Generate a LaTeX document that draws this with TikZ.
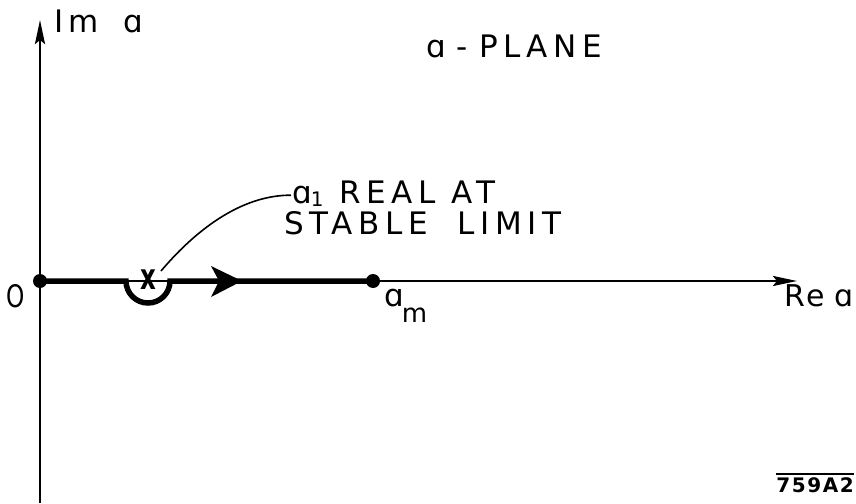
\documentclass[tikz,border=0pt]{standalone}
\usepackage{fontspec}
\setmainfont{DejaVu Sans}
\newfontfamily\lett[LetterSpace=18]{DejaVu Sans}
\newfontfamily\lettb[LetterSpace=8]{DejaVu Sans}
\usetikzlibrary{arrows.meta}
\begin{document}
\begin{tikzpicture}[x=1pt,y=-1pt,
  axisline/.style={line width=2.6pt, -{Stealth[length=24pt,width=10pt,inset=4pt]}},
  contour/.style={line width=5.5pt},
  leader/.style={line width=1.6pt},
  lbl/.style={font=\lett\fontsize{31}{31}\selectfont, inner sep=0pt, anchor=base west},
  dot/.style={circle, fill, inner sep=0pt, minimum size=14pt},
]
\useasboundingbox (0,0) rectangle (856,503);
% axes
\coordinate (ybot) at (40,503);
\coordinate (ytop) at (40,20);
\coordinate (xstart) at (40,281);
\coordinate (xend) at (797,281);
\draw[axisline] (ybot) -- (ytop);
\draw[axisline] (xstart) -- (xend);
% points
\node[dot] (O) at (40,281) {};
\node[dot] (am) at (373,281) {};
\coordinate (arcL) at (126,281);
\coordinate (arcR) at (170,281);
\draw[contour] (O.center) -- (arcL) arc[start angle=180, end angle=0, radius=22] -- (am.center);
% direction arrow
\fill (211,266) -- (242,281) -- (211,297) -- (219,281) -- cycle;
% pole
\node[font=\bfseries\fontsize{36}{36}\selectfont, inner sep=0pt, anchor=base] (x) at (148.5,289) {\scalebox{0.68}[1]{x}};
% labels
\node[lbl] (im) at (54,33) {\spaceskip=24pt Im ɑ};
\node[lbl] (plane) at (426,57) {\spaceskip=11pt ɑ - PLANE};
\node[lbl] (l1) at (292,203) {ɑ\kern-1pt\raisebox{-3pt}{\fontsize{20}{20}\selectfont 1}\spaceskip=16pt{} REAL AT};
\node[lbl] (l2) at (284,234) {\spaceskip=30pt STABLE LIMIT};
\node[font=\fontsize{31}{31}\selectfont, inner sep=0pt, anchor=base] (o) at (15.5,307) {\scalebox{0.75}[1]{O}};
\node[lbl] (amlbl) at (384,306) {ɑ\kern-2pt\raisebox{-16pt}{\fontsize{26}{26}\selectfont m}};
\node[lbl, anchor=base east, font=\lettb\fontsize{30}{30}\selectfont] (re) at (854,306) {\spaceskip=10pt Re ɑ};
\node[font=\lettb\bfseries\fontsize{20}{20}\selectfont, inner sep=0pt, anchor=base east] (id) at (854,492) {759A2};
\draw[line width=1.5pt] ([yshift=3pt]id.north west) -- ([yshift=3pt]id.north east);
% leader
\draw[leader] (161,271) .. controls (200,225) and (245,195) .. ([xshift=-1pt,yshift=-2pt]l1.west);
\end{tikzpicture}
\end{document}
